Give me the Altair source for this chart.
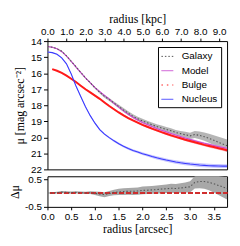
import altair as alt
import pandas as pd

# ---------------- data ----------------
radius_arcsec = [0.0, 0.1, 0.2, 0.3, 0.4, 0.5, 0.6, 0.7, 0.8, 0.9,
                 1.0, 1.1, 1.2, 1.3, 1.4, 1.5, 1.6, 1.7, 1.8, 1.9,
                 2.0, 2.1, 2.2, 2.3, 2.4, 2.5, 2.6, 2.7, 2.8, 2.9,
                 3.0, 3.1, 3.2, 3.3, 3.4, 3.5, 3.6, 3.7, 3.8]

galaxy_mu = [14.34, 14.38, 14.47, 14.63, 14.92, 15.26, 15.60, 15.95, 16.30, 16.59,
             16.91, 17.19, 17.45, 17.64, 17.86, 18.08, 18.30, 18.50, 18.69, 18.85,
             18.98, 19.10, 19.22, 19.33, 19.42, 19.51, 19.59, 19.70, 19.77, 19.84,
             19.91, 19.83, 19.88, 19.96, 20.06, 20.18, 20.31, 20.43, 20.55]
galaxy_err = [0.03, 0.03, 0.03, 0.04, 0.04, 0.04, 0.04, 0.04, 0.04, 0.05,
              0.06, 0.08, 0.09, 0.09, 0.10, 0.11, 0.12, 0.12, 0.13, 0.13,
              0.14, 0.14, 0.14, 0.15, 0.15, 0.15, 0.16, 0.16, 0.17, 0.18,
              0.20, 0.22, 0.24, 0.26, 0.28, 0.31, 0.34, 0.37, 0.40]

model_mu = [14.34, 14.38, 14.48, 14.66, 14.94, 15.27, 15.62, 15.96, 16.30, 16.60,
            16.90, 17.15, 17.39, 17.62, 17.88, 18.12, 18.35, 18.56, 18.75, 18.92,
            19.07, 19.20, 19.33, 19.45, 19.56, 19.66, 19.76, 19.86, 19.95, 20.04,
            20.13, 20.21, 20.29, 20.37, 20.44, 20.51, 20.58, 20.64, 20.70]
model_err = [0.02, 0.02, 0.02, 0.02, 0.02, 0.02, 0.02, 0.02, 0.03, 0.03,
             0.03, 0.03, 0.03, 0.03, 0.03, 0.03, 0.04, 0.04, 0.04, 0.04,
             0.04, 0.04, 0.04, 0.04, 0.04, 0.04, 0.05, 0.05, 0.05, 0.05,
             0.05, 0.05, 0.05, 0.06, 0.06, 0.06, 0.06, 0.06, 0.06]

bulge_mu = [None, 15.75, 15.85, 15.98, 16.15, 16.35, 16.55, 16.78, 17.00, 17.20,
            17.40, 17.60, 17.83, 18.05, 18.25, 18.45, 18.63, 18.80, 18.95, 19.09,
            19.22, 19.34, 19.46, 19.57, 19.68, 19.78, 19.88, 19.97, 20.06, 20.15,
            20.23, 20.31, 20.39, 20.47, 20.54, 20.61, 20.68, 20.75, 20.82]
bulge_err = [None, 0.03, 0.03, 0.03, 0.03, 0.04, 0.04, 0.04, 0.04, 0.04,
             0.05, 0.05, 0.05, 0.05, 0.05, 0.06, 0.06, 0.06, 0.06, 0.06,
             0.07, 0.07, 0.07, 0.07, 0.07, 0.08, 0.08, 0.08, 0.08, 0.08,
             0.09, 0.09, 0.09, 0.09, 0.09, 0.10, 0.10, 0.10, 0.10]

nucleus_mu = [14.68, 14.72, 14.82, 15.05, 15.42, 16.05, 16.80, 17.45, 18.10, 18.65,
              19.12, 19.52, 19.80, 20.02, 20.22, 20.40, 20.56, 20.70, 20.82, 20.92,
              21.02, 21.11, 21.20, 21.28, 21.35, 21.42, 21.48, 21.54, 21.59, 21.63,
              21.67, 21.70, 21.73, 21.75, 21.77, 21.78, 21.79, 21.80, 21.80]
nucleus_err = [0.03, 0.03, 0.03, 0.03, 0.04, 0.04, 0.04, 0.05, 0.05, 0.05,
               0.06, 0.06, 0.06, 0.06, 0.07, 0.07, 0.07, 0.08, 0.08, 0.08,
               0.09, 0.09, 0.09, 0.10, 0.10, 0.10, 0.10, 0.11, 0.11, 0.11,
               0.11, 0.12, 0.12, 0.12, 0.12, 0.12, 0.12, 0.12, 0.12]

series_names = ["Galaxy", "Model", "Bulge", "Nucleus"]
line_colors = ["#555555", "#c84ad0", "#ff1a1a", "#3a3aff"]
band_colors = ["#9c9c9c", "#eaa6ee", "#ffa0a0", "#b4b4ff"]
legend_dash = [[1.5, 2], [1, 0], [1.5, 4], [1, 0]]

mu_ticks = [14, 15, 16, 17, 18, 19, 20, 21, 22]
kpc_ticks = [0, 1, 2, 3, 4, 5, 6, 7, 8, 9]
arcsec_ticks = [0.0, 0.5, 1.0, 1.5, 2.0, 2.5, 3.0, 3.5]
resid_ticks = [-0.5, 0.0, 0.5]
KPC_PER_ARCSEC = 2.49
X_MAX = 3.78

# ---------------- tables ----------------
rows = []
for name, mus, errs in zip(series_names,
                           [galaxy_mu, model_mu, bulge_mu, nucleus_mu],
                           [galaxy_err, model_err, bulge_err, nucleus_err]):
    for r, m, e in zip(radius_arcsec, mus, errs):
        if m is None:
            continue
        rows.append({"series": name, "r": r, "mu": m, "lo": m - e, "hi": m + e,
                     "kpc": r * KPC_PER_ARCSEC})
df = pd.DataFrame(rows)

resid = pd.DataFrame({
    "r": radius_arcsec,
    "d": [m - g for m, g in zip(model_mu, galaxy_mu)],
    "e": galaxy_err,
})
resid["lo"] = resid["d"] - resid["e"]
resid["hi"] = resid["d"] + resid["e"]

# ---------------- encodings ----------------
x_scale = alt.Scale(domain=[0, X_MAX], nice=False, zero=False)
y_scale = alt.Scale(domain=[14, 22], reverse=True, nice=False, zero=False)
y_axis = alt.Axis(values=mu_ticks, format="d", title="μ [mag arcsec⁻²]",
                  tickSize=4, labelPadding=2, titlePadding=4)


def ymain(field):
    return alt.Y(field, type="quantitative", scale=y_scale, axis=y_axis)


xmain = alt.X("r:Q", scale=x_scale, axis=None)
base = alt.Chart(df)

layers = []
for name, bc in zip(series_names, band_colors):
    layers.append(
        base.transform_filter(alt.datum.series == name)
        .mark_area(color=bc, opacity=0.75, clip=True)
        .encode(x=xmain, y=ymain("lo"), y2="hi:Q")
    )

line_styles = {
    "Galaxy": dict(color=line_colors[0], strokeWidth=1.1, strokeDash=[1.5, 2]),
    "Model": dict(color=line_colors[1], strokeWidth=1.1),
    "Bulge": dict(color=line_colors[2], strokeWidth=2),
    "Nucleus": dict(color=line_colors[3], strokeWidth=1.1),
}
for name in ["Model", "Bulge", "Nucleus", "Galaxy"]:
    layers.append(
        base.transform_filter(alt.datum.series == name)
        .mark_line(clip=True, **line_styles[name])
        .encode(x=xmain, y=ymain("mu"))
    )

legend = alt.Legend(title=None, orient="top-right", offset=6,
                    fillColor="white", strokeColor="black", padding=3,
                    symbolType="stroke", symbolSize=144, symbolStrokeWidth=1,
                    labelFont="Liberation Sans", labelFontSize=10,
                    labelOffset=8, rowPadding=2.5, cornerRadius=0)
layers.append(
    base.transform_filter(alt.datum.r == 0)
    .mark_line()
    .encode(
        x=xmain, y=ymain("mu"),
        color=alt.Color("series:N", scale=alt.Scale(domain=series_names, range=line_colors),
                        legend=legend, sort=series_names),
        strokeDash=alt.StrokeDash("series:N",
                                  scale=alt.Scale(domain=series_names, range=legend_dash),
                                  legend=legend, sort=series_names),
    )
)

kpc_layer = (
    base.transform_filter(alt.datum.series == "Galaxy")
    .mark_point(opacity=0)
    .encode(
        x=alt.X("kpc:Q", scale=alt.Scale(domain=[0, X_MAX * KPC_PER_ARCSEC], nice=False, zero=False),
                axis=alt.Axis(orient="top", values=kpc_ticks, format=".1f", title="radius [kpc]",
                              tickSize=3, labelPadding=2, titlePadding=1, labelOverlap=False)),
        y=ymain("mu"),
    )
)

top = (
    alt.layer(alt.layer(*layers), kpc_layer)
    .resolve_scale(x="independent")
    .properties(width=182, height=130)
)

# ---------------- residual panel ----------------
rx = alt.X("r:Q", scale=x_scale,
           axis=alt.Axis(values=arcsec_ticks, format=".1f", title="radius [arcsec]",
                         tickSize=3, labelPadding=2, titlePadding=2, labelOverlap=False))
r_scale = alt.Scale(domain=[-0.5, 0.6], nice=False, zero=False)
r_axis = alt.Axis(values=resid_ticks, format=".1f", title="Δμ",
                  labelExpr="replace(datum.label, '−', '-')",
                  tickSize=4, labelPadding=2, titlePadding=3)


def yres(field):
    return alt.Y(field, type="quantitative", scale=r_scale, axis=r_axis)


rbase = alt.Chart(resid)
rband = rbase.mark_area(color="#a8a8a8", clip=True).encode(x=rx, y=yres("lo"), y2="hi:Q")
rzero = rbase.mark_rule(color="#d03030", strokeDash=[4, 3], strokeWidth=1).encode(y=alt.datum(0))
rline = rbase.mark_line(color="#555555", strokeDash=[1.5, 2], strokeWidth=1.1, clip=True).encode(
    x=rx, y=yres("d"))

bottom = alt.layer(rband, rzero, rline).properties(width=182, height=31)

chart = (
    alt.vconcat(top, bottom, spacing=7, bounds="flush")
    .properties(padding={"left": 0, "top": 2, "right": 0, "bottom": 0})
    .configure_axis(labelFont="Liberation Sans", labelFontSize=10, labelFlush=False,
                    titleFont="Liberation Serif", titleFontSize=12, titleFontWeight="normal",
                    labelColor="black", titleColor="black", tickColor="black",
                    domain=False, grid=False)
    .configure_view(stroke="black", strokeWidth=1)
)

chart.save("out.html", embed_options={"renderer": "svg", "actions": False})
